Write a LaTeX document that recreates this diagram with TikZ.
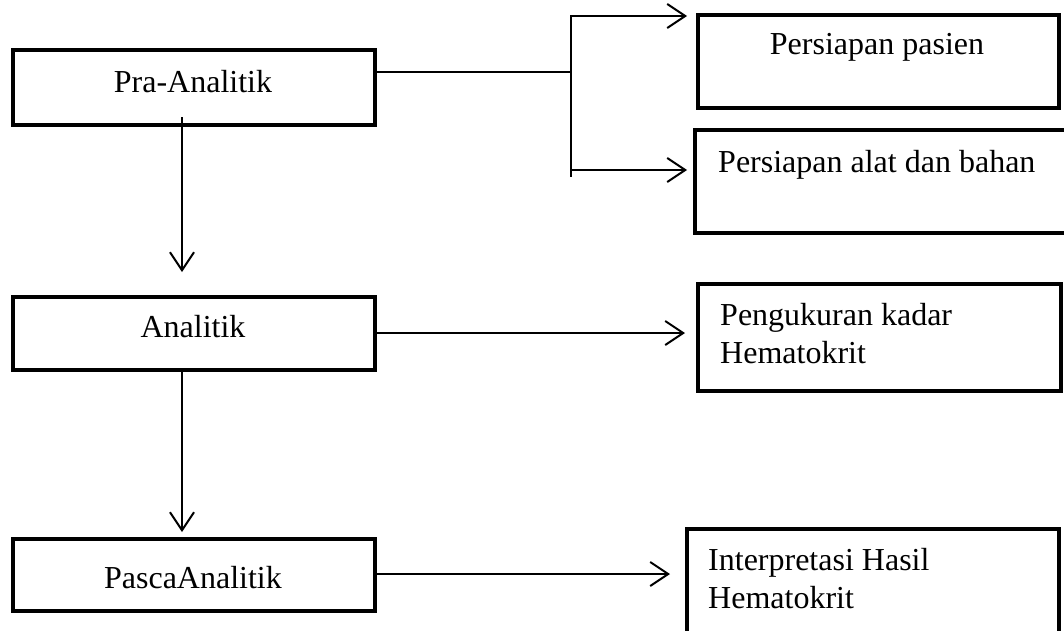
\documentclass[tikz,border=0pt]{standalone}
\usepackage{fontspec}
\setmainfont{Liberation Serif}
\usetikzlibrary{arrows.meta}
\tikzset{
  box/.style={draw=black, line width=4pt, rectangle, inner sep=0pt},
  lbl/.style={inner sep=0pt, font=\fontsize{32}{38}\selectfont},
  conn/.style={draw=black, line width=2pt},
  arr/.style={conn, -{Straight Barb[length=18pt,width=24pt,line width=2pt]}}
}
\begin{document}
\begin{tikzpicture}[x=1pt,y=-1pt]
\useasboundingbox (0,0) rectangle (1064,630);
\clip (0,0) rectangle (1064,630);
% left column boxes
\node[box, minimum width=362pt, minimum height=75pt] (pra) at (194,87.5) {};
\node[box, minimum width=362pt, minimum height=73pt] (ana) at (194,333.5) {};
\node[box, minimum width=362pt, minimum height=72pt] (pas) at (194,575) {};
\node[lbl, anchor=base] (tpra) at (193,92) {Pra-Analitik};
\node[lbl, anchor=base] (tana) at (193,337) {Analitik};
\node[lbl, anchor=base] (tpas) at (193,588) {PascaAnalitik};
% right column boxes
\node[box, minimum width=361pt, minimum height=93pt] (pp) at (878.5,61.5) {};
\node[box, minimum width=376pt, minimum height=103pt] (pa) at (883,181.5) {};
\node[box, minimum width=363pt, minimum height=107pt] (pk) at (879.5,337.5) {};
\node[box, minimum width=372pt, minimum height=112pt] (ih) at (873,585) {};
\node[lbl, anchor=base] (tpp) at (877,54) {Persiapan pasien};
\node[lbl, anchor=base west] (tpa) at (718,172) {Persiapan alat dan bahan};
\node[lbl, anchor=base west] (tpk) at (720,325) {\vtop{\hbox{Pengukuran kadar}\hbox{Hematokrit}}};
\node[lbl, anchor=base west] (tih) at (708,570) {\vtop{\hbox{Interpretasi Hasil}\hbox{Hematokrit}}};
% connectors
\coordinate (j) at (571,72);
\coordinate (jt) at (571,15);
\coordinate (jb) at (571,177);
\coordinate (tipA) at (687,16);
\coordinate (tipB) at (687,170);
\draw[conn] (pra.east |- j) -- (j);
\draw[conn] (jt) -- (jb);
\draw[arr] (jt |- tipA) -- (tipA);
\draw[arr] (jb |- tipB) -- (tipB);
\coordinate (d1s) at (182,117);
\coordinate (d1e) at (182,272);
\draw[arr] (d1s) -- (d1e);
\coordinate (r2) at (685,333);
\draw[arr] (ana.east |- r2) -- (r2);
\coordinate (d2e) at (182,532);
\draw[arr] (ana.south -| d2e) -- (d2e);
\coordinate (r3) at (670,574);
\draw[arr] (pas.east |- r3) -- (r3);
\end{tikzpicture}
\end{document}
